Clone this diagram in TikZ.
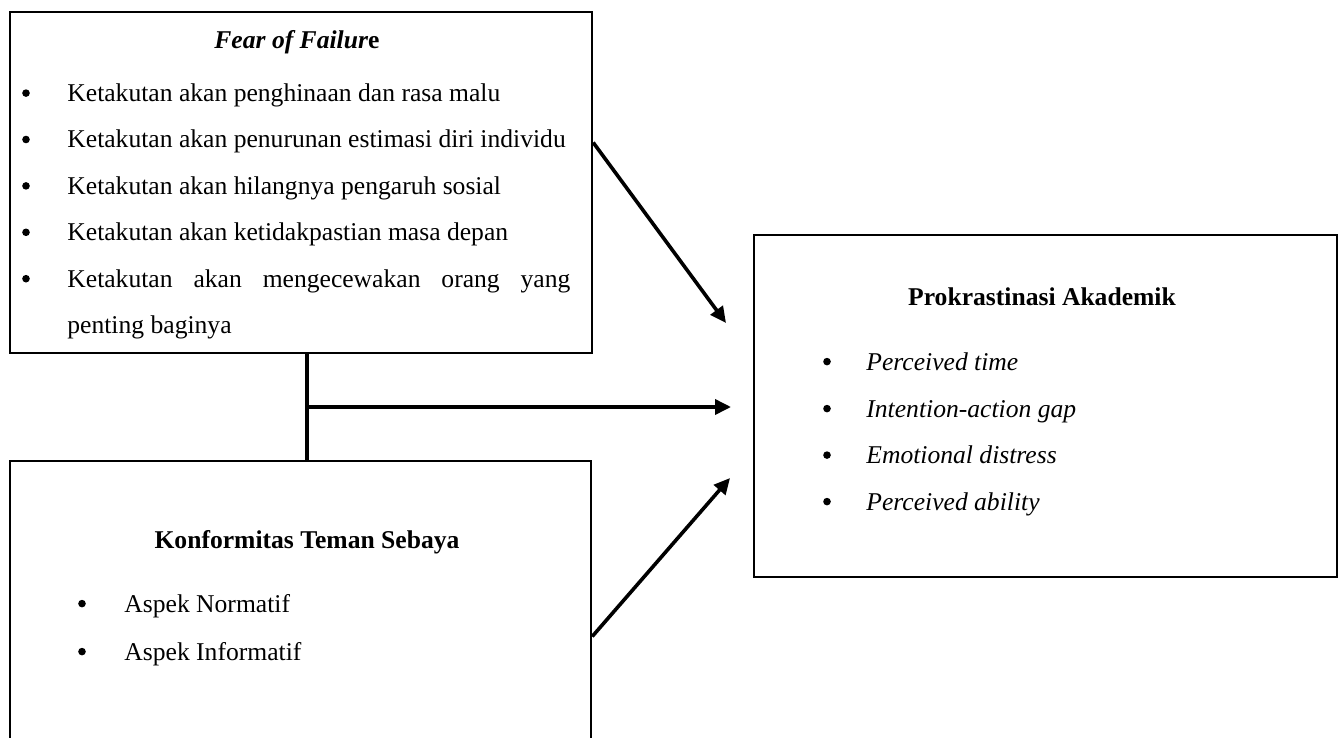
\documentclass[tikz,border=0pt]{standalone}
\usepackage{fontspec}
\setmainfont{Liberation Serif}
\usetikzlibrary{arrows.meta}

\begin{document}
\begin{tikzpicture}[x=0.5pt, y=-0.5pt, font=\fontsize{12.8pt}{15pt}\selectfont,
  box/.style={draw, line width=1.2pt, rectangle, inner sep=0pt},
  item/.style={anchor=base west, inner sep=0pt},
  ttl/.style={anchor=base, inner sep=0pt},
  dot/.style={circle, fill, inner sep=0pt, minimum size=3.8pt, yshift=4.2pt},
  arr/.style={-{Triangle[length=8pt,width=7.5pt]}, line width=1.8pt}]
  \useasboundingbox (0,0) rectangle (1343,738);
  \clip (0,0) rectangle (1343,738);
  % boxes
  \node[box, minimum width=291pt, minimum height=170.5pt] (fof) at (301,182.5) {};
  \node[box, minimum width=290.5pt, minimum height=169.5pt] (kts) at (300.5,630.5) {};
  \node[box, minimum width=291.5pt, minimum height=171pt] (pa) at (1045.5,406) {};
  % fear of failure
  \node[ttl] (fof-t) at (297,48.5) {\textbf{\textit{Fear of Failur}e}};
  \node[dot] (fof-b1) at (26,101.5) {};
  \node[item] (fof-1) at (67,101.5) {Ketakutan akan penghinaan dan rasa malu};
  \node[dot] (fof-b2) at (26,147.9) {};
  \node[item] (fof-2) at (67,147.9) {Ketakutan akan penurunan estimasi diri individu};
  \node[dot] (fof-b3) at (26,194.3) {};
  \node[item] (fof-3) at (67,194.3) {Ketakutan akan hilangnya pengaruh sosial};
  \node[dot] (fof-b4) at (26,240.7) {};
  \node[item] (fof-4) at (67,240.7) {Ketakutan akan ketidakpastian masa depan};
  \node[dot] (fof-b5) at (26,287.1) {};
  \node[item] (fof-5) at (67,287.1) {\makebox[251.5pt][s]{Ketakutan akan mengecewakan orang yang}};
  \node[item] (fof-5b) at (67,333.5) {penting baginya};
  % konformitas
  \node[ttl] (kts-t) at (307,548.5) {\textbf{Konformitas Teman Sebaya}};
  \node[dot] (kts-b1) at (82,612) {};
  \node[item] (kts-1) at (124,612) {Aspek Normatif};
  \node[dot] (kts-b2) at (82,660) {};
  \node[item] (kts-2) at (124,660) {Aspek Informatif};
  % prokrastinasi
  \node[ttl] (pa-t) at (1042,305.5) {\textbf{Prokrastinasi Akademik}};
  \node[dot] (pa-b1) at (827,370) {};
  \node[item] (pa-1) at (866,370) {\textit{Perceived time}};
  \node[dot] (pa-b2) at (827,417) {};
  \node[item] (pa-2) at (866,417) {\textit{Intention-action gap}};
  \node[dot] (pa-b3) at (827,463.5) {};
  \node[item] (pa-3) at (866,463.5) {\textit{Emotional distress}};
  \node[dot] (pa-b4) at (827,510) {};
  \node[item] (pa-4) at (866,510) {\textit{Perceived ability}};
  % connectors
  \coordinate (jn) at (307,407);
  \coordinate (e1) at (726,323);
  \coordinate (e2) at (731,407);
  \coordinate (e3) at (730,478);
  \draw[line width=1.8pt] (jn |- fof.south) -- (jn |- kts.north);
  \draw[arr] (jn) -- (e2);
  \draw[arr] ([yshift=20pt]fof.east) -- (e1);
  \draw[arr] ([yshift=-3pt]kts.east) -- (e3);
\end{tikzpicture}
\end{document}
